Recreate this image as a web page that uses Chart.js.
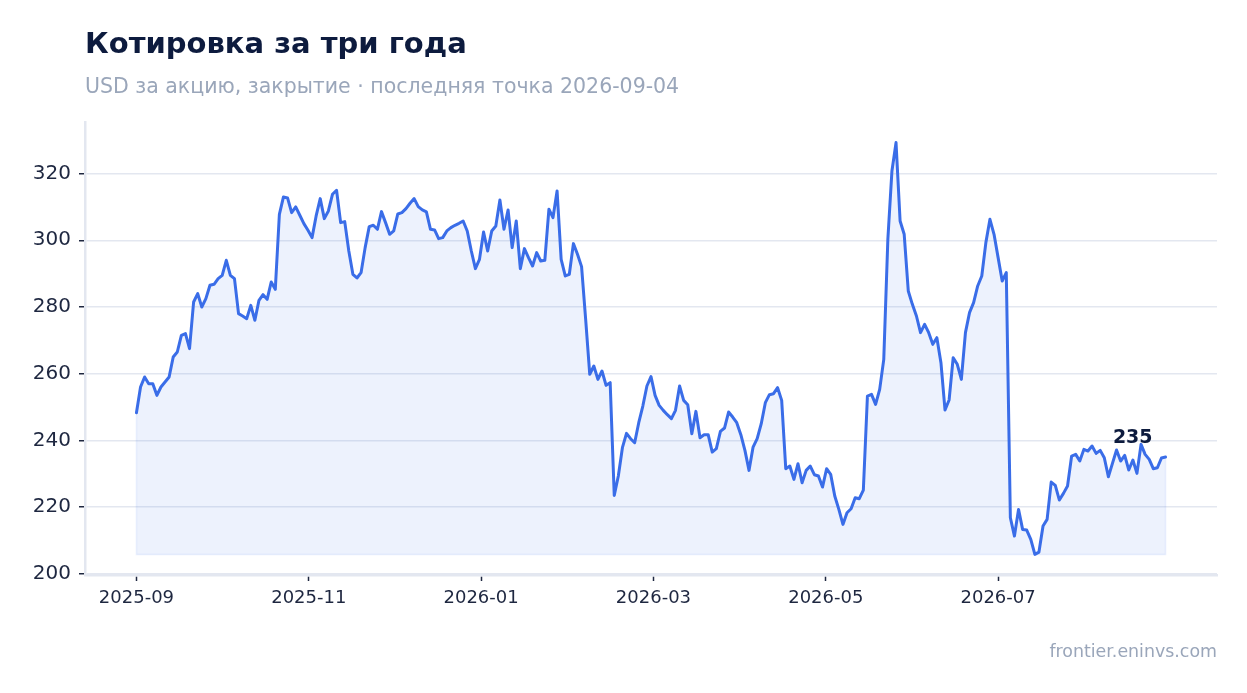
<!DOCTYPE html>
<html lang="ru">
<head>
<meta charset="utf-8">
<title>Котировка за три года</title>
<script src="https://cdn.jsdelivr.net/npm/chart.js@4.4.1/dist/chart.umd.min.js"></script>
<style>
  html, body { margin: 0; padding: 0; background: #fff; }
  .wrap { position: relative; width: 1247px; height: 693px; font-family: 'DejaVu Sans', sans-serif; }
  .title { position: absolute; left: 85px; top: 28.5px; font-size: 29px; line-height: 1; font-weight: bold; color: #0d1b3e; white-space: nowrap; }
  .subtitle { position: absolute; left: 85px; top: 76px; font-size: 20.5px; line-height: 1; color: #9aa6ba; white-space: nowrap; }
  .source { position: absolute; right: 30px; top: 643px; font-size: 17.4px; line-height: 1; color: #9aa6ba; white-space: nowrap; }
  .plot { position: absolute; left: 0; top: 0; width: 1247px; height: 693px; }
</style>
</head>
<body>
<div class="wrap">
  <div class="plot"><canvas id="chart_quote"></canvas></div>
  <div class="title">Котировка за три года</div>
  <div class="subtitle">USD за акцию, закрытие · последняя точка 2026-09-04</div>
  <div class="source">frontier.eninvs.com</div>
</div>
<script>
// closing prices, one per trading day, 2025-09-01 .. 2026-09-04
const prices = [
  248.3, 256.0, 259.0, 257.0, 257.0, 253.5, 256.0, 257.5, 259.0, 265.0,
  266.5, 271.5, 272.0, 267.5, 281.5, 284.0, 280.0, 282.5, 286.5, 286.8,
  288.5, 289.5, 294.0, 289.5, 288.5, 278.0, 277.3, 276.5, 280.5, 276.0,
  282.0, 283.7, 282.3, 287.5, 285.3, 307.8, 313.0, 312.7, 308.3, 310.0,
  307.5, 305.0, 303.0, 300.8, 307.3, 312.5, 306.5, 308.8, 313.8, 315.0,
  305.3, 305.6, 296.8, 289.8, 288.7, 290.3, 297.8, 304.1, 304.5, 303.3,
  308.6, 305.3, 301.8, 302.8, 307.9, 308.3, 309.5, 311.1, 312.5, 310.1,
  309.1, 308.5, 303.3, 303.1, 300.5, 300.8, 302.8, 303.8, 304.5, 305.1,
  305.8, 302.8, 296.8, 291.5, 294.3, 302.5, 296.8, 302.8, 304.3, 312.1,
  303.3, 309.1, 297.8, 305.8, 291.5, 297.5, 294.8, 292.3, 296.3, 293.8,
  294.0, 309.3, 306.8, 314.8, 294.3, 289.3, 289.8, 299.0, 295.8, 292.1,
  276.3, 259.8, 262.3, 258.3, 260.8, 256.5, 257.3, 223.5, 229.3, 237.8,
  242.1, 240.5, 239.3, 245.3, 250.3, 256.3, 259.1, 253.5, 250.5, 249.0,
  247.7, 246.5, 249.0, 256.3, 252.0, 250.7, 242.0, 248.7, 240.8, 241.7,
  241.7, 236.5, 237.5, 242.7, 243.7, 248.5, 247.0, 245.3, 241.7, 237.0,
  231.0, 238.0, 240.5, 245.0, 251.3, 253.7, 254.0, 255.8, 252.0, 231.5,
  232.3, 228.3, 233.0, 227.3, 231.0, 232.3, 229.7, 229.3, 226.0, 231.5,
  229.8, 223.3, 219.3, 214.8, 218.3, 219.5, 222.8, 222.5, 225.1, 253.3,
  253.8, 250.8, 255.3, 264.3, 300.3, 320.8, 329.3, 305.8, 301.8, 284.8,
  280.8, 277.3, 272.3, 274.8, 272.3, 268.8, 270.8, 263.3, 249.1, 252.1,
  264.8, 262.8, 258.3, 272.3, 278.3, 281.3, 286.3, 289.3, 299.3, 306.3,
  301.8, 294.8, 287.8, 290.3, 216.8, 211.3, 219.3, 213.3, 213.1, 210.3,
  205.8, 206.5, 214.3, 216.3, 227.5, 226.5, 222.1, 224.1, 226.3, 235.3,
  235.8, 233.8, 237.3, 236.8, 238.3, 236.1, 237.0, 234.8, 229.1, 233.1,
  237.1, 233.8, 235.5, 231.1, 234.1, 230.1, 238.8, 235.8, 234.3, 231.5,
  231.8, 234.7, 235.0
];

const monthLabels = ['2025-09', '2025-11', '2026-01', '2026-03', '2026-05', '2026-07'];
const pointsPerLabel = 42.2;

const n = prices.length;
const lo = Math.min(...prices);
const hi = Math.max(...prices);
const yPad = (hi - lo) * 0.05;
const xPad = (n - 1) * 0.05;

const series = prices.map((v, i) => ({ x: i, y: v }));
// thin outline of the shaded area (left side, floor, right side)
const areaEdge = [
  { x: 0, y: prices[0] }, { x: 0, y: lo },
  { x: n - 1, y: lo }, { x: n - 1, y: prices[n - 1] }
];

const INK = '#1e2740';
const LIGHT = '#e3e7f0';

const lastLabel = {
  id: 'lastLabel',
  afterDatasetsDraw(chart) {
    const meta = chart.getDatasetMeta(0);
    const pt = meta.data[meta.data.length - 1];
    const ctx = chart.ctx;
    ctx.save();
    ctx.font = 'bold 19px "DejaVu Sans"';
    ctx.fillStyle = '#0d1b3e';
    ctx.textAlign = 'right';
    ctx.textBaseline = 'alphabetic';
    ctx.fillText(String(Math.round(prices[n - 1])), pt.x - 13, pt.y - 14);
    ctx.restore();
  }
};

document.addEventListener('DOMContentLoaded', function () {
    const ctx = document.getElementById('chart_quote');
    if (!ctx) {
        return;
    }

    new Chart(ctx, {
        type: 'line',
        data: {
            datasets: [
                {
                    data: series,
                    borderColor: '#3a6de8',
                    borderWidth: 3,
                    borderJoinStyle: 'round',
                    borderCapStyle: 'round',
                    pointRadius: 0,
                    tension: 0,
                    fill: { value: lo },
                    backgroundColor: 'rgba(58, 109, 232, 0.09)',
                    order: 1,
                },
                {
                    data: areaEdge,
                    borderColor: 'rgba(58, 109, 232, 0.10)',
                    borderWidth: 1.5,
                    pointRadius: 0,
                    fill: false,
                    order: 2,
                },
            ]
        },
        options: {
            responsive: true,
            maintainAspectRatio: false,
            animation: false,
            events: [],
            layout: { padding: { left: 0, right: 30, top: 122, bottom: 78 } },
            plugins: {
                legend: { display: false },
                tooltip: { enabled: false },
                title: { display: false },
            },
            scales: {
                x: {
                    type: 'linear',
                    min: -xPad,
                    max: n - 1 + xPad,
                    afterFit: (s) => { s.height = 40; },
                    afterBuildTicks: (s) => {
                        s.ticks = monthLabels.map((_, k) => ({ value: k * pointsPerLabel }));
                    },
                    ticks: {
                        autoSkip: false,
                        maxRotation: 0,
                        padding: 7,
                        color: INK,
                        font: { family: 'DejaVu Sans', size: 18 },
                        callback: (v, i) => monthLabels[i],
                    },
                    grid: {
                        drawOnChartArea: false,
                        drawTicks: true,
                        tickLength: 6,
                        tickColor: INK,
                        tickWidth: 1.5,
                    },
                    border: { color: LIGHT, width: 2.5 },
                },
                y: {
                    min: lo - yPad,
                    max: hi + yPad,
                    afterFit: (s) => { s.width = 85; },
                    ticks: {
                        stepSize: 20,
                        includeBounds: false,
                        padding: 8,
                        color: INK,
                        font: { family: 'DejaVu Sans', size: 20 },
                    },
                    grid: {
                        color: LIGHT,
                        lineWidth: 1.5,
                        tickLength: 6,
                        tickColor: INK,
                        tickWidth: 1.5,
                    },
                    border: { color: LIGHT, width: 2.5 },
                },
            },
        },
        plugins: [lastLabel],
    });
});
</script>
</body>
</html>
